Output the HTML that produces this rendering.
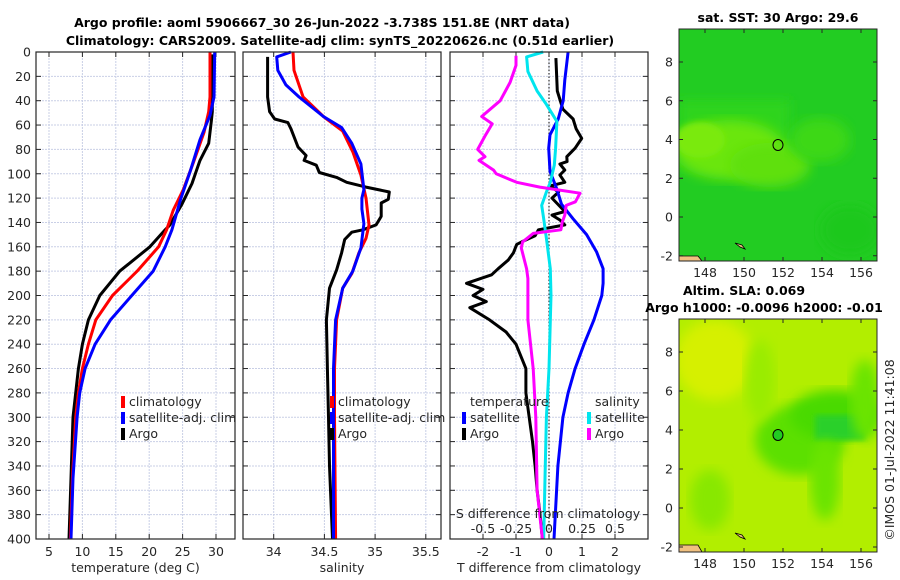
<!DOCTYPE html>
<html><head><meta charset="utf-8"><style>
html,body{margin:0;padding:0;background:#fff;}
svg{display:block;font-family:"DejaVu Sans","Liberation Sans",sans-serif;}
.tk{font-size:12.5px;fill:#262626;}
.ttl{font-size:12.5px;font-weight:bold;fill:#000;}
</style></head><body>
<svg id="fig" width="900" height="580" viewBox="0 0 900 580">
<text class="ttl" x="322" y="27" text-anchor="middle">Argo profile: aoml 5906667_30 26-Jun-2022 -3.738S 151.8E (NRT data)</text>
<text class="ttl" x="340" y="45" text-anchor="middle">Climatology: CARS2009. Satellite-adj clim: synTS_20220626.nc (0.51d earlier)</text>
<g id="p1"></g>
<g id="p2"></g>
<g id="p3"></g>

<g>
<text class="ttl" x="778" y="22" text-anchor="middle">sat. SST: 30 Argo: 29.6</text>
<defs>
<clipPath id="c1"><rect x="679" y="29" width="198" height="232"/></clipPath>
<clipPath id="c2"><rect x="679" y="319" width="198" height="233"/></clipPath>
<filter id="bl"><feGaussianBlur stdDeviation="6"/></filter>
<filter id="bl2"><feGaussianBlur stdDeviation="3"/></filter>
</defs>
<g clip-path="url(#c1)">
<rect x="679" y="29" width="198" height="232" fill="#22cc22"/>
<rect x="679" y="100" width="110" height="70" fill="#2fd41f" filter="url(#bl)"/>
<ellipse cx="730" cy="150" rx="55" ry="30" fill="#6be60c" filter="url(#bl)"/>
<ellipse cx="770" cy="165" rx="40" ry="22" fill="#5ee010" filter="url(#bl)"/>
<ellipse cx="700" cy="140" rx="25" ry="18" fill="#7aea08" filter="url(#bl2)"/>
<ellipse cx="820" cy="140" rx="30" ry="22" fill="#3ed818" filter="url(#bl)"/>
<ellipse cx="850" cy="230" rx="30" ry="25" fill="#1ec81e" filter="url(#bl)"/>
<path d="M679 256 L698 256 L702 261 L679 261 Z" fill="#f0c080" stroke="#000" stroke-width="0.8"/>
<path d="M735 243 L740 247 L745 249 L742 245 Z" fill="#f0c080" stroke="#000" stroke-width="0.8"/>
</g>
<rect x="679" y="29" width="198" height="232" fill="none" stroke="#262626" stroke-width="1"/>
<ellipse cx="778" cy="145" rx="5" ry="5.5" fill="none" stroke="#000" stroke-width="1"/>
<g id="m1ticks"></g>
</g>

<g>
<text class="ttl" x="744" y="295" text-anchor="middle">Altim. SLA: 0.069</text>
<text class="ttl" x="764" y="312" text-anchor="middle">Argo h1000: -0.0096 h2000: -0.01</text>
<g clip-path="url(#c2)">
<rect x="679" y="319" width="198" height="233" fill="#b2ee00"/>
<ellipse cx="715" cy="360" rx="40" ry="40" fill="#d6f000" filter="url(#bl)"/>
<ellipse cx="800" cy="440" rx="45" ry="35" fill="#5ce000" filter="url(#bl)"/>
<ellipse cx="835" cy="415" rx="45" ry="25" fill="#4ada00" filter="url(#bl)"/>
<rect x="815" y="415" width="50" height="25" fill="#2ad02a" filter="url(#bl2)"/>
<ellipse cx="825" cy="480" rx="15" ry="40" fill="#6ae400" filter="url(#bl)"/>
<ellipse cx="865" cy="400" rx="15" ry="40" fill="#6ae400" filter="url(#bl)"/>
<ellipse cx="710" cy="500" rx="20" ry="30" fill="#88e800" filter="url(#bl)"/>
<ellipse cx="760" cy="380" rx="15" ry="40" fill="#9aec00" filter="url(#bl)"/>
<path d="M679 545 L698 545 L702 552 L679 552 Z" fill="#f0c080" stroke="#000" stroke-width="0.8"/>
<path d="M735 533 L740 537 L745 539 L742 535 Z" fill="#f0c080" stroke="#000" stroke-width="0.8"/>
</g>
<rect x="679" y="319" width="198" height="233" fill="none" stroke="#262626" stroke-width="1"/>
<ellipse cx="778" cy="435" rx="5" ry="5.5" fill="#22cc22" stroke="#000" stroke-width="1"/>
<g id="m2ticks"></g>
</g>
<text class="tk" transform="translate(894,450) rotate(-90)" text-anchor="middle">©IMOS 01-Jul-2022 11:41:08</text>
</svg>
<script>
// ---- data ----
const depthTicks=[0,20,40,60,80,100,120,140,160,180,200,220,240,260,280,300,320,340,360,380,400];
const tempTicks=[5,10,15,20,25,30];
const salTicks=[34,34.5,35,35.5];
const tdiffTicks=[-2,-1,0,1,2];
const sdiffTicks=[-0.5,-0.25,0,0.25,0.5];
const sdiffLabels=["-0.5","-0.25","0","0.25","0.5"];

const tClimD=[0,37,49,66,91,113,130,146,160,180,200,220,240,260,280,300,350,400];
const tClimV=[29.1,29.1,28.9,28.2,26.6,25.1,23.6,22.6,21.4,18.2,14.5,12,10.9,10,9.4,9,8.5,8.2];
const tSatD=[0,37,52,72,97,121,146,160,180,200,220,240,260,280,300,350,400];
const tSatV=[29.8,29.7,29.1,27.6,26.2,24.7,23.4,22.4,20.6,17.4,14.2,11.9,10.4,9.6,9.2,8.6,8.3];
const tArgoD=[2,49,57,75,89,97,108,125,142,146,160,180,200,220,240,260,280,300,350,400];
const tArgoV=[29.45,29.45,29.3,28.9,27.6,27.1,26.4,24.9,23.1,22.4,20.1,15.6,12.6,10.9,10,9.4,9,8.6,8.3,8.0];

const sClimD=[0,15,37,53,65,82,101,120,142,153,165,182,194,220,260,300,400];
const sClimV=[34.19,34.2,34.29,34.49,34.68,34.78,34.86,34.91,34.94,34.91,34.84,34.77,34.68,34.62,34.6,34.6,34.61];
const sSatD=[0,4,15,27,37,53,62,75,92,113,120,129,141,161,180,194,220,260,300,400];
const sSatV=[34.17,34.03,34.04,34.12,34.25,34.49,34.67,34.77,34.86,34.89,34.87,34.87,34.89,34.86,34.78,34.68,34.61,34.59,34.59,34.59];
const sArgoD=[4,37,49,55,58,63,78,85,89,93,99,103,107,111,115,121,124,135,142,146,148,154,165,179,194,220,260,300,340,400];
const sArgoV=[33.94,33.94,33.96,34.01,34.14,34.17,34.24,34.32,34.3,34.42,34.45,34.62,34.72,34.91,35.14,35.13,35.06,35.06,35.01,34.88,34.77,34.7,34.67,34.62,34.55,34.52,34.53,34.54,34.55,34.58];

const dtArgoD=[5,32,47,55,63,71,79,86,90,92,97,101,107,110,115,120,131,134,138,142,146,151,156,158,165,171,178,183,190,195,200,205,210,220,230,240,260,280,300,320,340,360,380,400];
const dtArgoV=[0.21,0.25,0.42,0.73,0.82,0.99,0.79,0.54,0.55,0.33,0.48,0.33,0.48,0.03,0.29,0.09,0.48,0.09,0.33,0.48,-0.32,-0.42,-0.83,-0.98,-1.08,-1.24,-1.54,-1.74,-2.5,-2.0,-2.3,-1.9,-2.4,-1.8,-1.3,-1.0,-0.7,-0.7,-0.6,-0.5,-0.42,-0.36,-0.27,-0.2];
const dtSatD=[0,23,40,55,68,79,98,112,125,137,150,164,178,190,200,220,240,260,280,300,340,400];
const dtSatV=[0.58,0.48,0.43,0.28,0.03,-0.01,0.03,0.23,0.38,0.73,1.14,1.44,1.64,1.64,1.6,1.36,1.06,0.79,0.58,0.42,0.27,0.15];
const dsArgoD=[3,11,25,40,53,59,69,80,86,89,97,100,107,111,116,123,126,134,140,146,149,156,161,178,186,220,260,300,360,400];
const dsArgoV=[-0.25,-0.25,-0.295,-0.37,-0.51,-0.43,-0.485,-0.54,-0.485,-0.53,-0.42,-0.4,-0.245,-0.07,0.235,0.2,0.13,0.12,0.1,0.09,-0.12,-0.2,-0.21,-0.17,-0.16,-0.16,-0.12,-0.1,-0.09,-0.05];
const dsSatD=[0,4,16,32,43,57,79,93,107,115,126,137,153,178,200,260,300,350,400];
const dsSatV=[-0.045,-0.17,-0.16,-0.09,-0.02,0.06,0.05,0.04,0.01,-0.02,-0.055,-0.04,-0.02,0.01,0.015,0,-0.02,-0.03,-0.04];

const lonTicks=[148,150,152,154,156];
const latTicks=[-2,0,2,4,6,8];

// ---- helpers ----
const NS='http://www.w3.org/2000/svg';
function mk(parent,tag,attrs){const e=document.createElementNS(NS,tag);for(const k in attrs)e.setAttribute(k,attrs[k]);parent.appendChild(e);return e;}
const Y0=52,Y1=539;
function yD(d){return Y0+(d/400)*(Y1-Y0);}
function lin(v0,x0,v1,x1){return v=>x0+(v-v0)*(x1-x0)/(v1-v0);}

function panel(g,X0,X1,xs,ticks,labels,xlabel,showY){
  depthTicks.forEach(d=>{const l=mk(g,'line',{x1:X0,x2:X1,y1:yD(d),y2:yD(d),stroke:'#c9cfe6','stroke-width':1,'stroke-dasharray':'2,1'});
    });
  ticks.forEach(t=>{const l=mk(g,'line',{x1:xs(t),x2:xs(t),y1:Y0,y2:Y1,stroke:'#c9cfe6','stroke-width':1,'stroke-dasharray':'2,1'});
    });
  depthTicks.forEach(d=>{mk(g,'line',{x1:X0,x2:X0+5,y1:yD(d),y2:yD(d),stroke:'#262626'});mk(g,'line',{x1:X1-5,x2:X1,y1:yD(d),y2:yD(d),stroke:'#262626'});
    if(showY){const t=mk(g,'text',{x:X0-5,y:yD(d)+4.5,'text-anchor':'end',class:'tk'});t.textContent=d;
      }});
  ticks.forEach((v,i)=>{mk(g,'line',{x1:xs(v),x2:xs(v),y1:Y1,y2:Y1-5,stroke:'#262626'});mk(g,'line',{x1:xs(v),x2:xs(v),y1:Y0,y2:Y0+5,stroke:'#262626'});
    if(labels){const t=mk(g,'text',{x:xs(v),y:Y1+17,'text-anchor':'middle',class:'tk'});t.textContent=labels[i];
      }});
  const xl=mk(g,'text',{x:(X0+X1)/2,y:572,'text-anchor':'middle',class:'tk'});xl.textContent=xlabel;
  
}
function frame(g,X0,X1){const r=mk(g,'rect',{x:X0,y:Y0,width:X1-X0,height:Y1-Y0,fill:'none',stroke:'#262626','stroke-width':1.2});
  }
function line(g,xs,D,V,color,name,w){
  let p='';D.forEach((d,i)=>{p+=(i?'L':'M')+xs(V[i]).toFixed(1)+' '+yD(d).toFixed(1);});
  const e=mk(g,'path',{d:p,fill:'none',stroke:color,'stroke-width':w||3,'stroke-linejoin':'round'});
  }
function legend(g,x,y,color,label,name){
  const r=mk(g,'rect',{x:x,y:y-10,width:4,height:12,fill:color});
  
  const t=mk(g,'text',{x:x+8,y:y,class:'tk'});t.textContent=label;
  }

const g1=document.getElementById('p1');const x1s=lin(5,49,30,216);
panel(g1,36,235,x1s,tempTicks,tempTicks.map(String),'temperature (deg C)',true);
line(g1,x1s,tArgoD,tArgoV,'#000','argo-temperature-line');
line(g1,x1s,tClimD,tClimV,'#ff0000','climatology-temperature-line');
line(g1,x1s,tSatD,tSatV,'#0000ff','satellite-temperature-line');
frame(g1,36,235);
legend(g1,121,406,'#ff0000','climatology','legend-climatology');
legend(g1,121,422,'#0000ff','satellite-adj. clim','legend-satellite-adj-clim');
legend(g1,121,438,'#000','Argo','legend-argo');

const g2=document.getElementById('p2');const x2s=lin(34,273.7,35,375.1);
panel(g2,243,441,x2s,salTicks,salTicks.map(String),'salinity',false);
line(g2,x2s,sArgoD,sArgoV,'#000','argo-salinity-line');
line(g2,x2s,sClimD,sClimV,'#ff0000','climatology-salinity-line');
line(g2,x2s,sSatD,sSatV,'#0000ff','satellite-salinity-line');
frame(g2,243,441);
legend(g2,330,406,'#ff0000','climatology','legend-climatology-sal');
legend(g2,330,422,'#0000ff','satellite-adj. clim','legend-satellite-adj-clim-sal');
legend(g2,330,438,'#000','Argo','legend-argo-sal');

const g3=document.getElementById('p3');const x3s=lin(0,549,1,582);const xss=v=>x3s(v*4);
panel(g3,450,648,x3s,tdiffTicks,tdiffTicks.map(String),'T difference from climatology',false);
const zl=mk(g3,'line',{x1:x3s(0),x2:x3s(0),y1:Y0,y2:Y1,stroke:'#333','stroke-width':1.2,'stroke-dasharray':'1.5,2'});

line(g3,x3s,dtArgoD,dtArgoV,'#000','argo-t-difference-line');
line(g3,x3s,dtSatD,dtSatV,'#0000ff','satellite-t-difference-line');
line(g3,xss,dsSatD,dsSatV,'#00e5ee','satellite-s-difference-line');
line(g3,xss,dsArgoD,dsArgoV,'#ff00ff','argo-s-difference-line');
frame(g3,450,648);
sdiffTicks.forEach((v,i)=>{const t=mk(g3,'text',{x:xss(v),y:533,'text-anchor':'middle',class:'tk'});t.textContent=sdiffLabels[i];
  });
const st=mk(g3,'text',{x:548,y:518,'text-anchor':'middle',class:'tk'});st.textContent='S difference from climatology';

const lt=mk(g3,'text',{x:470,y:406,class:'tk'});lt.textContent='temperature';

const ls=mk(g3,'text',{x:595,y:406,class:'tk'});ls.textContent='salinity';

legend(g3,462,422,'#0000ff','satellite','legend-t-satellite');
legend(g3,462,438,'#000','Argo','legend-t-argo');
legend(g3,587,422,'#00e5ee','satellite','legend-s-satellite');
legend(g3,587,438,'#ff00ff','Argo','legend-s-argo');

function mapTicks(id,top,bot,latAt){
  const g=document.getElementById(id);const xl=lin(148,705,156,861);
  lonTicks.forEach(v=>{mk(g,'line',{x1:xl(v),x2:xl(v),y1:bot,y2:bot-4,stroke:'#262626'});mk(g,'line',{x1:xl(v),x2:xl(v),y1:top,y2:top+4,stroke:'#262626'});
    const t=mk(g,'text',{x:xl(v),y:bot+16,'text-anchor':'middle',class:'tk'});t.textContent=v;
    });
  latTicks.forEach(v=>{const y=latAt(v);mk(g,'line',{x1:679,x2:683,y1:y,y2:y,stroke:'#262626'});mk(g,'line',{x1:873,x2:877,y1:y,y2:y,stroke:'#262626'});
    const t=mk(g,'text',{x:673,y:y+4.5,'text-anchor':'end',class:'tk'});t.textContent=v;
    });
}
mapTicks('m1ticks',29,261,lin(0,217,8,62));
mapTicks('m2ticks',319,552,lin(0,508,8,352));
</script>
</body></html>
